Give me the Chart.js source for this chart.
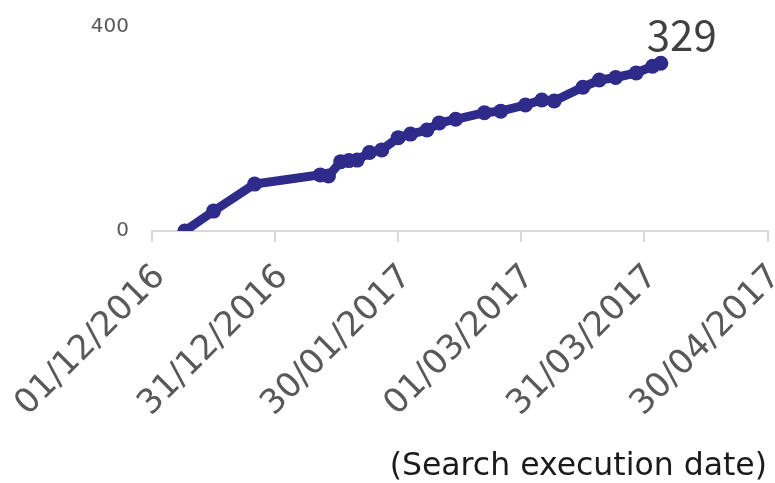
<!DOCTYPE html>
<html>
<head>
<meta charset="utf-8">
<script src="https://cdn.jsdelivr.net/npm/chart.js@4/dist/chart.umd.min.js"></script>
<style>
    html, body { margin: 0; padding: 0; background: #fff; }
    #wrap { width: 775px; height: 483px; position: relative; }
</style>
</head>
<body>
<div id="wrap"><canvas id="chart"></canvas></div>
<script>
(function () {
    "use strict";

    // search execution dates (dd/mm/yyyy) and cumulative counts
    const searchDates = [
        "09/12/2016", "16/12/2016", "26/12/2016", "11/01/2017", "13/01/2017",
        "16/01/2017", "18/01/2017", "20/01/2017", "23/01/2017", "26/01/2017",
        "30/01/2017", "02/02/2017", "06/02/2017", "09/02/2017", "13/02/2017",
        "20/02/2017", "24/02/2017", "02/03/2017", "06/03/2017", "09/03/2017",
        "16/03/2017", "20/03/2017", "24/03/2017", "29/03/2017", "02/04/2017",
        "04/04/2017"
    ];
    const counts = [
        0, 39, 92, 110, 108,
        136, 138, 139, 154, 159,
        183, 190, 198, 212, 219,
        232, 235, 247, 257, 255,
        282, 296, 301, 310, 323,
        329
    ];
    const xStart = "01/12/2016";
    const xEnd = "30/04/2017";
    const xStepDays = 30;
    const yTicks = [0, 400];
    const xTitle = "(Search execution date)";

    const SANS = "'DejaVu Sans', sans-serif";
    const CJK = "'Noto Sans CJK JP', 'Noto Sans', sans-serif";
    const DAY = 86400000;
    const parseDate = s => {
        const [d, m, y] = s.split("/").map(Number);
        return Date.UTC(y, m - 1, d);
    };
    const origin = parseDate(xStart);
    const dayOf = s => Math.round((parseDate(s) - origin) / DAY);
    const fmt = days => {
        const dt = new Date(origin + days * DAY);
        const dd = String(dt.getUTCDate()).padStart(2, "0");
        const mm = String(dt.getUTCMonth() + 1).padStart(2, "0");
        return `${dd}/${mm}/${dt.getUTCFullYear()}`;
    };

    const points = searchDates.map((d, i) => ({ x: dayOf(d), y: counts[i] }));
    const navy = "#2e2b8a";

    // last value label ("329") + axis title at bottom right
    const extraText = {
        id: "extraText",
        afterDatasetsDraw(chart) {
            const meta = chart.getDatasetMeta(0);
            const el = meta.data[meta.data.length - 1];
            const ctx = chart.ctx;
            ctx.save();
            ctx.font = "42px " + CJK;
            ctx.fillStyle = "#404040";
            ctx.textAlign = "left";
            ctx.textBaseline = "alphabetic";
            ctx.fillText(String(counts[counts.length - 1]), el.x - 14, el.y - 12);

            ctx.font = "31.5px " + SANS;
            ctx.fillStyle = "#1a1a1a";
            ctx.textAlign = "right";
            ctx.fillText(xTitle, 767, 475);
            ctx.restore();
        }
    };

    new Chart(document.getElementById("chart"), {
        type: "line",
        data: {
            datasets: [{
                data: points,
                borderColor: navy,
                backgroundColor: navy,
                borderWidth: 9,
                pointRadius: 7.5,
                pointBorderWidth: 0,
                pointBackgroundColor: navy,
                tension: 0,
                fill: false,
            }],
        },
        options: {
            responsive: true,
            maintainAspectRatio: false,
            animation: false,
            layout: { padding: { top: 27, right: 5, left: 0, bottom: 0 } },
            plugins: { legend: { display: false }, tooltip: { enabled: false } },
            scales: {
                x: {
                    type: "linear",
                    min: 0,
                    max: dayOf(xEnd),
                    afterBuildTicks: axis => {
                        axis.ticks = [];
                        for (let v = 0; v <= dayOf(xEnd); v += xStepDays) axis.ticks.push({ value: v });
                    },
                    afterFit: axis => {
                        axis.height = 252;
                        axis.paddingLeft = 0;
                        axis.paddingRight = 0;
                        axis.paddingTop = 0;
                        axis.paddingBottom = 0;
                    },
                    grid: { display: true, drawOnChartArea: false, drawTicks: true, tickLength: 11, color: "#d9d9d9", lineWidth: 2 },
                    border: { display: true, color: "#d9d9d9", width: 2 },
                    ticks: {
                        minRotation: 45,
                        maxRotation: 45,
                        padding: 15,
                        labelOffset: 8,
                        autoSkip: false,
                        color: "#595959",
                        font: { family: SANS, size: 34 },
                        callback: v => fmt(v),
                    },
                },
                y: {
                    min: 0,
                    max: 400,
                    afterBuildTicks: axis => { axis.ticks = yTicks.map(v => ({ value: v })); },
                    afterFit: axis => {
                        axis.width = 152;
                        axis.paddingTop = 0;
                        axis.paddingBottom = 0;
                    },
                    grid: { display: false, drawTicks: false },
                    border: { display: false },
                    ticks: {
                        padding: 23,
                        color: "#595959",
                        font: { family: SANS, size: 20 },
                    },
                },
            },
        },
        plugins: [extraText],
    });
})();
</script>
</body>
</html>
